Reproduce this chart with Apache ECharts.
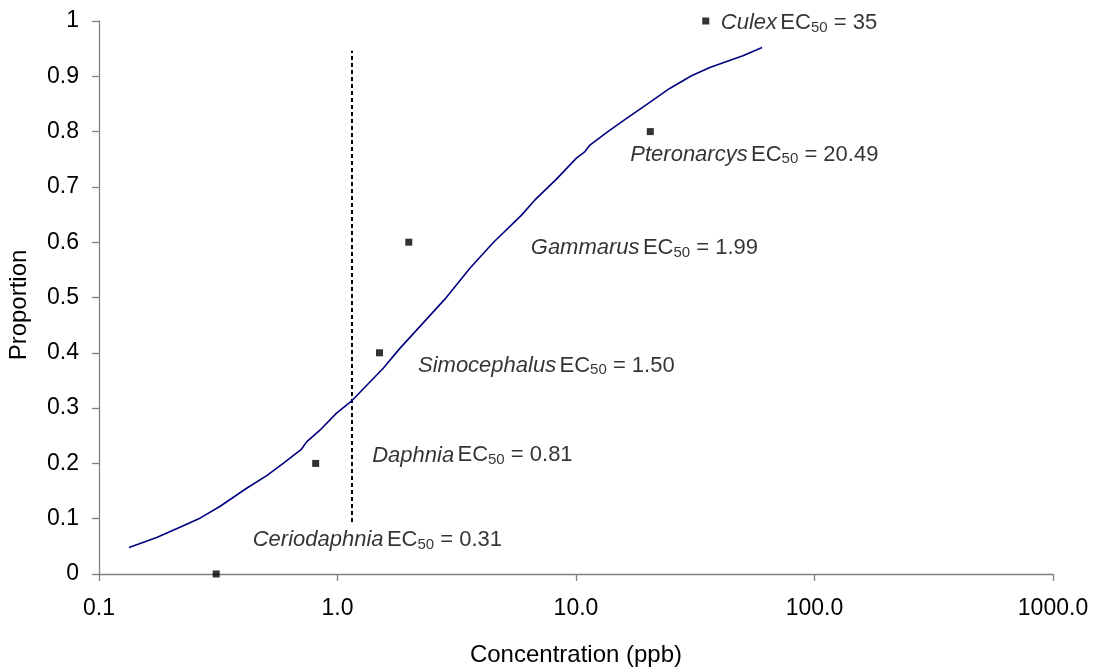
<!DOCTYPE html>
<html>
<head>
<meta charset="utf-8">
<script src="https://cdn.jsdelivr.net/npm/echarts@6/dist/echarts.min.js"></script>
<style>html,body{margin:0;padding:0;background:#fff;}#c{width:1097px;height:671px;}</style>
</head>
<body>
<div id="c"></div>
<script>
// ---- data ----
const species = ['Ceriodaphnia', 'Daphnia', 'Simocephalus', 'Gammarus', 'Pteronarcys', 'Culex'];
const ec50 = [0.31, 0.81, 1.50, 1.99, 20.49, 35];
const ec50Text = ['0.31', '0.81', '1.50', '1.99', '20.49', '35'];
const proportion = [0, 0.2, 0.4, 0.6, 0.8, 1.0];

const curveX = [0.1336, 0.1745, 0.222, 0.265, 0.321, 0.416, 0.505, 0.592, 0.707, 0.742, 0.844, 0.991, 1.14, 1.555, 1.826, 2.82, 3.59, 4.49, 5.91, 6.71, 8.28, 10.04, 10.9, 11.4, 13.6, 16.3, 20.1, 24.7, 30.5, 36.4, 50.1, 60.3];
const curveY = [0.048, 0.066, 0.086, 0.101, 0.122, 0.155, 0.178, 0.200, 0.226, 0.239, 0.260, 0.291, 0.312, 0.372, 0.408, 0.497, 0.553, 0.599, 0.649, 0.676, 0.714, 0.752, 0.764, 0.775, 0.800, 0.824, 0.851, 0.878, 0.901, 0.916, 0.937, 0.952];

const refLineX = [1.15, 1.15];
const refLineY = [0.094, 0.946];

// ---- layout / style (not data) ----
const labelOffsets = [[33, -34], [53, -8], [35, 13], [118.5, 6], [-23.5, 23], [11.5, 2]];
const FONT = 'Liberation Sans, Arial, sans-serif';

const chart = echarts.init(document.getElementById('c'), null, {renderer: 'canvas'});

const scatterData = species.map((s, i) => ({
  value: [ec50[i], proportion[i]],
  label: {
    show: true,
    position: 'right',
    distance: 0,
    offset: labelOffsets[i],
    formatter: '{i|' + s + '} {n|EC}{s|50}{n| = ' + ec50Text[i] + '}'
  }
}));

const rich = {
  i: {fontFamily: FONT, fontStyle: 'italic', fontSize: 22, color: '#000', lineHeight: 26},
  n: {fontFamily: FONT, fontSize: 22, color: '#000', lineHeight: 26},
  s: {fontFamily: FONT, fontSize: 15, color: '#000', lineHeight: 26, padding: [9, 0, 0, 0]}
};

chart.setOption({
  animation: false,
  backgroundColor: '#fff',
  grid: {left: 99, right: 44, top: 21, bottom: 97, containLabel: false, outerBoundsMode: 'none'},
  xAxis: {
    type: 'log',
    logBase: 10,
    min: 0.1,
    max: 1000,
    name: 'Concentration (ppb)',
    nameLocation: 'middle',
    nameGap: 69,
    nameTextStyle: {fontFamily: FONT, fontSize: 24, color: '#000'},
    axisLine: {show: true, lineStyle: {color: '#808080', width: 1.3}},
    axisTick: {show: true, inside: false, length: 7, lineStyle: {color: '#808080', width: 1.3}},
    minorTick: {show: false},
    splitLine: {show: false},
    axisLabel: {
      margin: 23,
      fontFamily: FONT, fontSize: 23, color: '#000',
      formatter: v => Number(v).toFixed(1)
    }
  },
  yAxis: {
    type: 'value',
    min: 0,
    max: 1,
    interval: 0.1,
    name: 'Proportion',
    nameLocation: 'middle',
    nameGap: 68,
    nameTextStyle: {fontFamily: FONT, fontSize: 24, color: '#000', padding: [0, 15, 0, 0]},
    axisLine: {show: true, lineStyle: {color: '#808080', width: 1.3}},
    axisTick: {show: true, inside: false, length: 7, lineStyle: {color: '#808080', width: 1.3}},
    splitLine: {show: false},
    axisLabel: {
      margin: 20,
      fontFamily: FONT, fontSize: 23, color: '#000',
      formatter: v => String(Number(v.toFixed(1)))
    }
  },
  series: [
    {
      type: 'line',
      data: curveX.map((x, i) => [x, curveY[i]]),
      showSymbol: false,
      symbol: 'none',
      smooth: false,
      lineStyle: {color: '#000080', width: 1.6},
      z: 2
    },
    {
      type: 'line',
      data: refLineX.map((x, i) => [x, refLineY[i]]),
      showSymbol: false,
      symbol: 'none',
      lineStyle: {color: '#000', width: 2, type: [4, 3]},
      z: 1
    },
    {
      type: 'scatter',
      data: scatterData,
      symbol: 'rect',
      symbolSize: 7,
      itemStyle: {color: '#000'},
      label: {color: '#000', rich: rich},
      z: 3
    }
  ]
});
</script>
</body>
</html>
